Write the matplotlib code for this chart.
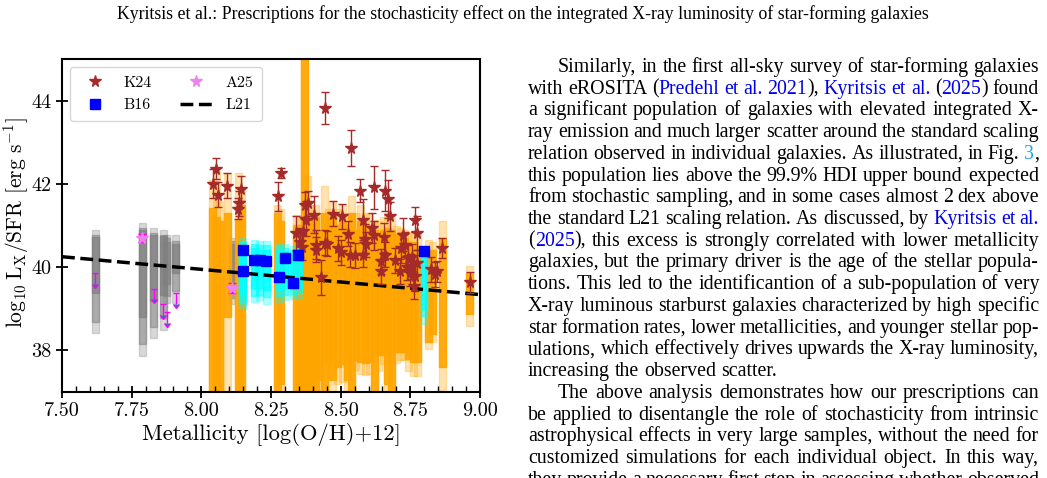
import numpy as np
import matplotlib
matplotlib.use("Agg")
import matplotlib.pyplot as plt
from matplotlib.lines import Line2D
from matplotlib.ticker import MultipleLocator, FormatStrFormatter

plt.rcParams['font.family'] = 'serif'
plt.rcParams['font.serif'] = ['cmr10']
plt.rcParams['mathtext.fontset'] = 'cm'
plt.rcParams['axes.formatter.use_mathtext'] = True

# ---------------- data ----------------
# A25 (grey) HDI columns: three nested intervals (outer, middle, inner)
a25_col_x = [7.620, 7.788, 7.829, 7.864, 7.876, 7.909, 8.110]
a25_lo3 = [38.41, 37.87, 38.29, 38.49, 39.15, 39.15, 39.11]
a25_lo2 = [38.69, 38.15, 38.57, 38.77, 39.30, 39.43, 39.25]
a25_lo1 = [39.37, 38.79, 39.19, 39.33, 39.60, 39.85, 39.40]
a25_hi1 = [40.73, 40.90, 40.78, 40.74, 40.60, 40.55, 40.55]
a25_hi2 = [40.77, 40.94, 40.82, 40.78, 40.70, 40.62, 40.62]
a25_hi3 = [40.90, 41.06, 40.94, 40.89, 40.77, 40.77, 40.69]

# A25 detections and upper limits
a25_x = [7.788, 8.110]
a25_y = [40.70, 39.50]
a25_err = [0.10, 0.12]
a25_ul_x = [7.620, 7.829, 7.864, 7.876, 7.909]
a25_ul_y = [39.85, 39.48, 39.11, 38.91, 39.37]

# B16 (cyan) columns and measurements
b16_x = [8.149, 8.149, 8.190, 8.209, 8.233, 8.279, 8.299, 8.329, 8.348, 8.799]
b16_y = [40.41, 39.90, 40.16, 40.16, 40.14, 39.77, 40.21, 39.61, 40.30, 40.38]
b16_lo3 = [38.99, 39.10, 39.17, 39.20, 39.12, 39.15, 39.20, 39.23, 39.25, 38.63]
b16_lo2 = [39.15, 39.25, 39.30, 39.32, 39.28, 39.30, 39.32, 39.35, 39.38, 38.83]
b16_lo1 = [39.40, 39.45, 39.50, 39.50, 39.45, 39.45, 39.50, 39.50, 39.50, 39.00]
b16_hi1 = [40.45, 40.40, 40.45, 40.42, 40.42, 40.40, 40.38, 40.35, 40.40, 40.30]
b16_hi2 = [40.60, 40.52, 40.55, 40.52, 40.52, 40.50, 40.47, 40.42, 40.48, 40.40]
b16_hi3 = [40.70, 40.60, 40.66, 40.62, 40.62, 40.58, 40.55, 40.50, 40.55, 40.47]

# K24 (orange) HDI columns: outer and inner intervals
k24_col_x = [8.040, 8.055, 8.065, 8.093, 8.135, 8.145, 8.275, 8.285, 8.340, 8.352,
             8.371, 8.380, 8.395, 8.410, 8.425, 8.443, 8.458, 8.472, 8.490, 8.508,
             8.525, 8.538, 8.555, 8.572, 8.588, 8.605, 8.620, 8.635, 8.652, 8.668,
             8.683, 8.700, 8.715, 8.730, 8.745, 8.760, 8.775, 8.815, 8.830, 8.865,
             8.962]
k24_lo_out = [36.5, 36.5, 36.5, 36.5, 36.5, 36.5, 36.5, 36.5, 36.5, 36.5,
              36.5, 36.5, 36.5, 36.5, 36.5, 36.5, 37.40, 36.5, 37.20, 37.24,
              36.5, 36.5, 37.52, 37.43, 37.40, 37.43, 36.5, 37.50, 37.67, 36.5,
              36.5, 37.70, 37.76, 37.76, 37.50, 37.38, 37.38, 38.03, 38.20, 37.05,
              38.59]
k24_lo_in = [36.6, 36.6, 36.6, 38.80, 36.6, 36.6, 36.6, 37.20, 36.6, 37.00,
             36.6, 36.6, 36.6, 36.6, 37.30, 36.6, 37.70, 37.30, 37.60, 37.67,
             37.30, 36.6, 37.76, 37.72, 37.70, 37.72, 36.6, 37.90, 37.90, 37.20,
             36.6, 37.95, 37.95, 37.95, 37.80, 37.72, 37.72, 38.20, 38.40, 37.60,
             38.87]
k24_hi_in = [41.42, 41.20, 41.10, 41.30, 41.14, 41.50, 41.30, 41.10, 41.00, 40.90,
             45.50, 41.30, 41.00, 41.20, 40.90, 41.30, 41.00, 41.20, 41.00, 41.10,
             41.00, 41.30, 40.90, 41.10, 41.00, 41.00, 40.90, 40.80, 40.90, 40.95,
             40.90, 40.80, 40.70, 40.70, 40.60, 40.60, 40.50, 40.40, 40.40, 40.70,
             39.87]
k24_hi_out = [42.10, 42.30, 41.60, 42.27, 42.26, 41.90, 41.50, 41.40, 41.26, 41.20,
              46.00, 42.18, 41.50, 41.50, 41.30, 41.94, 41.40, 41.58, 41.40, 41.50,
              41.30, 41.70, 41.30, 41.50, 41.30, 41.30, 41.14, 41.10, 41.20, 41.30,
              41.22, 41.00, 40.95, 40.90, 40.85, 40.85, 40.83, 40.66, 40.60, 41.10,
              40.02]

# K24 measurements
k24_x = [8.042, 8.054, 8.060, 8.093, 8.141, 8.135, 8.133, 8.275, 8.287, 8.445,
         8.536, 8.571, 8.621, 8.658, 8.670, 8.678, 8.580, 8.472, 8.506, 8.404,
         8.371, 8.383, 8.375, 8.341, 8.366, 8.355, 8.362, 8.413, 8.413, 8.443,
         8.452, 8.431, 8.527, 8.491, 8.500, 8.532, 8.550, 8.580, 8.586, 8.590,
         8.614, 8.618, 8.655, 8.658, 8.646, 8.645, 8.694, 8.712, 8.718, 8.724,
         8.730, 8.737, 8.741, 8.748, 8.753, 8.756, 8.764, 8.766, 8.768, 8.773,
         8.774, 8.825, 8.837, 8.846, 8.865, 8.963]
k24_y = [42.00, 42.36, 41.74, 41.96, 41.88, 41.54, 41.40, 41.70, 42.27, 43.83,
         42.87, 41.84, 41.92, 41.84, 41.64, 41.22, 41.14, 41.28, 41.22, 41.26,
         41.50, 41.53, 41.14, 40.82, 40.86, 40.60, 40.48, 40.54, 40.42, 40.58,
         40.56, 39.76, 40.80, 40.45, 40.36, 40.30, 40.28, 40.30, 40.68, 40.55,
         40.94, 40.76, 40.72, 40.30, 40.14, 39.90, 40.17, 39.90, 40.46, 40.78,
         40.54, 40.00, 40.22, 39.85, 40.02, 40.25, 39.54, 39.78, 41.14, 40.10,
         40.82, 39.95, 39.83, 39.90, 40.46, 39.64]
k24_err = [0.35, 0.25, 0.30, 0.30, 0.30, 0.30, 0.25, 0.35, 0.12, 0.38,
           0.43, 0.27, 0.52, 0.50, 0.45, 0.35, 0.50, 0.30, 0.30, 0.45,
           0.30, 0.30, 0.40, 0.40, 0.35, 0.35, 0.30, 0.35, 0.30, 0.30,
           0.30, 0.42, 0.30, 0.30, 0.30, 0.30, 0.30, 0.30, 0.35, 0.30,
           0.35, 0.35, 0.35, 0.30, 0.30, 0.30, 0.30, 0.30, 0.35, 0.40,
           0.30, 0.30, 0.30, 0.30, 0.30, 0.30, 0.30, 0.35, 0.30, 0.30,
           0.40, 0.30, 0.30, 0.25, 0.25, 0.25]

# L21 scaling relation
l21_x = [7.50, 9.00]
l21_y = [40.25, 39.34]

title = ("Kyritsis et al.: Prescriptions for the stochasticity effect on the "
         "integrated X-ray luminosity of star-forming galaxies")

# {..} = citation link, <..> = figure link
body = [
    "Similarly, in the first all-sky survey of star-forming galaxies",
    "with eROSITA ({Predehl et al. 2021}), {Kyritsis et al.} ({2025}) found",
    "a significant population of galaxies with elevated integrated X-",
    "ray emission and much larger scatter around the standard scaling",
    "relation observed in individual galaxies. As illustrated, in Fig. <3>,",
    "this population lies above the 99.9% HDI upper bound expected",
    "from stochastic sampling, and in some cases almost 2 dex above",
    "the standard L21 scaling relation. As discussed, by {Kyritsis et al.}",
    "({2025}), this excess is strongly correlated with lower metallicity",
    "galaxies, but the primary driver is the age of the stellar popula-",
    "tions. This led to the identificantion of a sub-population of very",
    "X-ray luminous starburst galaxies characterized by high specific",
    "star formation rates, lower metallicities, and younger stellar pop-",
    "ulations, which effectively drives upwards the X-ray luminosity,",
    "increasing the observed scatter.",
    "The above analysis demonstrates how our prescriptions can",
    "be applied to disentangle the role of stochasticity from intrinsic",
    "astrophysical effects in very large samples, without the need for",
    "customized simulations for each individual object. In this way,",
    "they provide a necessary first step in assessing whether observed",
]
indent_lines = [0, 15]
ragged_lines = [14]

# ---------------- figure ----------------
W, H = 1047, 478
fig = plt.figure(figsize=(W / 100, H / 100), dpi=100)
ax = fig.add_axes([62 / W, 1 - 392 / H, (480 - 62) / W, (392 - 59) / H])

bw = 0.025


def draw_columns(x, levels, color, alphas):
    for (lo, hi), a in zip(levels, alphas):
        lo = np.array(lo)
        hi = np.array(hi)
        ax.bar(x, hi - lo, bottom=lo, width=bw, color=color, alpha=a,
               edgecolor=color, linewidth=1, zorder=1)


draw_columns(a25_col_x, [(a25_lo3, a25_hi3), (a25_lo2, a25_hi2), (a25_lo1, a25_hi1)],
             'grey', [0.3, 0.5, 0.7])
draw_columns(k24_col_x, [(k24_lo_out, k24_hi_out), (k24_lo_in, k24_hi_in)],
             'orange', [0.3, 0.9])
draw_columns(b16_x, [(b16_lo3, b16_hi3), (b16_lo2, b16_hi2), (b16_lo1, b16_hi1)],
             'cyan', [0.3, 0.5, 0.7])

ax.plot(l21_x, l21_y, ls='--', color='black', lw=2.5, zorder=3)

ax.errorbar(k24_x, k24_y, yerr=k24_err, fmt='*', color='brown', ms=8.5,
            elinewidth=1, capsize=3, capthick=1, zorder=4)
ax.errorbar(a25_x, a25_y, yerr=a25_err, fmt='*', color='violet', ecolor='magenta',
            ms=8.5, elinewidth=1, capsize=3, capthick=1, zorder=4)
ax.errorbar(a25_ul_x, a25_ul_y, yerr=0.25, uplims=True, fmt='none',
            ecolor='magenta', elinewidth=1, capsize=2, zorder=4)
ax.plot(b16_x, b16_y, 's', color='blue', ms=7, zorder=5)

ax.set_xlim(7.5, 9.0)
ax.set_ylim(37, 45)
ax.xaxis.set_major_locator(MultipleLocator(0.25))
ax.xaxis.set_minor_locator(MultipleLocator(0.05))
ax.xaxis.set_major_formatter(FormatStrFormatter('%.2f'))
ax.yaxis.set_major_locator(MultipleLocator(2))
ax.yaxis.set_major_formatter(FormatStrFormatter('%d'))
ax.tick_params(which='major', direction='inout', length=8, width=1.3, labelsize=14.5)
ax.tick_params(which='minor', direction='in', length=4, width=1)
for s in ax.spines.values():
    s.set_linewidth(1.5)

ax.set_xlabel('Metallicity [log(O/H)+12]', fontsize=16.3, labelpad=2)
ax.set_ylabel(r'$\log_{10}\mathrm{L_X/SFR}\ [\mathrm{erg\ s^{-1}}]$', fontsize=15.5)
ax.yaxis.set_label_coords(-0.074, 0.51)

handles = [
    Line2D([], [], marker='*', color='brown', ls='none', ms=8.5),
    Line2D([], [], marker='s', color='blue', ls='none', ms=7),
    Line2D([], [], marker='*', color='violet', ls='none', ms=8.5),
    Line2D([], [], color='black', ls='--', lw=2.5),
]
ax.legend(handles, ['K24', 'B16', 'A25', 'L21'], loc='upper left', ncol=2,
          fontsize=11.5, handlelength=2.0, handletextpad=0.8, columnspacing=1.8,
          labelspacing=0.5, borderpad=0.55)

# ---------------- page text ----------------
serif = 'Liberation Serif'
link_blue = '#0000ee'
fig_blue = '#1fa3e6'
renderer = fig.canvas.get_renderer()


def text_width(s, fs):
    t = fig.text(0, 0, s, fontsize=fs, family=serif)
    w = t.get_window_extent(renderer).width
    t.remove()
    return w


def parse(line):
    words, cur, buf, color = [], [], '', 'black'
    for ch in line:
        if ch in '{<}> ':
            if buf:
                cur.append((buf, color))
                buf = ''
            if ch == '{':
                color = link_blue
            elif ch == '<':
                color = fig_blue
            elif ch in '}>':
                color = 'black'
            elif cur:
                words.append(cur)
                cur = []
        else:
            buf += ch
    if buf:
        cur.append((buf, color))
    if cur:
        words.append(cur)
    return words


# title sized to its width on the page
tw10 = text_width(title, 10)
fig.text(523 / W, 1 - 19 / H, title, fontsize=10 * 813 / tw10, family=serif,
         ha='center', va='baseline')

x_left, x_right, indent = 528, 1039, 30
plain = [l.replace('{', '').replace('}', '').replace('<', '').replace('>', '') for l in body]
nat10 = [text_width(plain[i], 10) for i in range(len(body)) if i not in ragged_lines]
widths_target = [(x_right - x_left - (indent if i in indent_lines else 0))
                 for i in range(len(body)) if i not in ragged_lines]
fs = 10 * np.mean(widths_target) / np.mean(nat10) * 0.995
space = text_width('a a', fs) - text_width('aa', fs)

y0, dy = 72, 21.72
for i, line in enumerate(body):
    words = parse(line)
    start = x_left + (indent if i in indent_lines else 0)
    seg_w = [[text_width(s, fs) for s, c in w] for w in words]
    total = sum(sum(w) for w in seg_w)
    if i in ragged_lines or len(words) < 2:
        gap = space
    else:
        gap = (x_right - start - total) / (len(words) - 1)
    x = start
    yb = 1 - (y0 + i * dy) / H
    for w, ws in zip(words, seg_w):
        for (s, c), sw in zip(w, ws):
            fig.text(x / W, yb, s, fontsize=fs, family=serif, color=c,
                     ha='left', va='baseline')
            x += sw
        x += gap

fig.savefig('out.png', dpi=100)
